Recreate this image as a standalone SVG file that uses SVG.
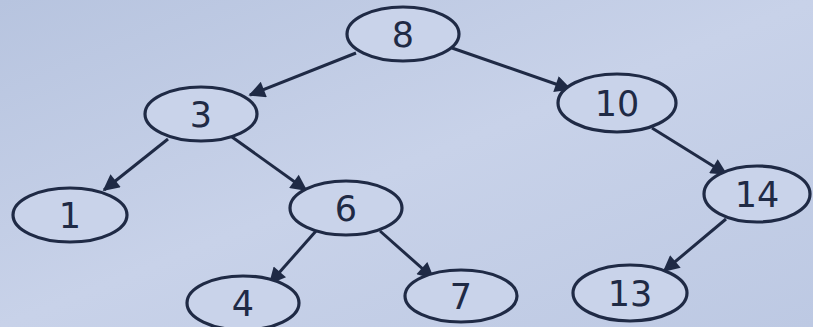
<svg xmlns="http://www.w3.org/2000/svg" width="813" height="327" viewBox="0 0 813 327">
<defs>
<linearGradient id="bg" x1="0" y1="0" x2="1" y2="1">
<stop offset="0" stop-color="#b7c4df"/>
<stop offset="0.5" stop-color="#c8d2e9"/>
<stop offset="1" stop-color="#bdc9e3"/>
</linearGradient>
<marker id="ah" viewBox="0 0 10 10" refX="9" refY="5" markerWidth="7" markerHeight="5.5" markerUnits="strokeWidth" orient="auto">
<path d="M0,0 L10,5 L0,10 z" fill="#1f2a45"/>
</marker>
<style>
.n ellipse{fill:#c9d3ea;stroke:#1f2a45;stroke-width:3.2}
.n text{font-family:"DejaVu Sans",sans-serif;font-size:35px;fill:#1f2a45;text-anchor:middle;dominant-baseline:central}
.e line{stroke:#1f2a45;stroke-width:3;marker-end:url(#ah)}
</style>
</defs>
<rect width="813" height="327" fill="url(#bg)"/>
<g id="edges" class="e">
<line x1="356" y1="53" x2="250" y2="95"/>
<line x1="452" y1="48" x2="570" y2="89"/>
<line x1="168" y1="139" x2="104" y2="190"/>
<line x1="232" y1="137" x2="306" y2="190"/>
<line x1="316" y1="231" x2="270" y2="283"/>
<line x1="380" y1="231" x2="433" y2="278"/>
<line x1="652" y1="128" x2="726" y2="174"/>
<line x1="726" y1="219" x2="664" y2="271"/>
</g>
<g id="n8" class="n"><ellipse cx="403" cy="34" rx="56" ry="27"/><text x="403" y="35">8</text></g>
<g id="n3" class="n"><ellipse cx="201" cy="114" rx="56" ry="27"/><text x="201" y="115">3</text></g>
<g id="n10" class="n"><ellipse cx="617" cy="103" rx="59" ry="29"/><text x="617" y="104">10</text></g>
<g id="n1" class="n"><ellipse cx="70" cy="215" rx="57" ry="27"/><text x="70" y="216">1</text></g>
<g id="n6" class="n"><ellipse cx="346" cy="208" rx="56" ry="27"/><text x="346" y="209">6</text></g>
<g id="n14" class="n"><ellipse cx="757" cy="194" rx="53" ry="28"/><text x="757" y="195">14</text></g>
<g id="n4" class="n"><ellipse cx="243" cy="303" rx="56" ry="27"/><text x="243" y="304">4</text></g>
<g id="n7" class="n"><ellipse cx="461" cy="296" rx="56" ry="26"/><text x="461" y="297">7</text></g>
<g id="n13" class="n"><ellipse cx="630" cy="293" rx="57" ry="28"/><text x="630" y="294">13</text></g>
</svg>
